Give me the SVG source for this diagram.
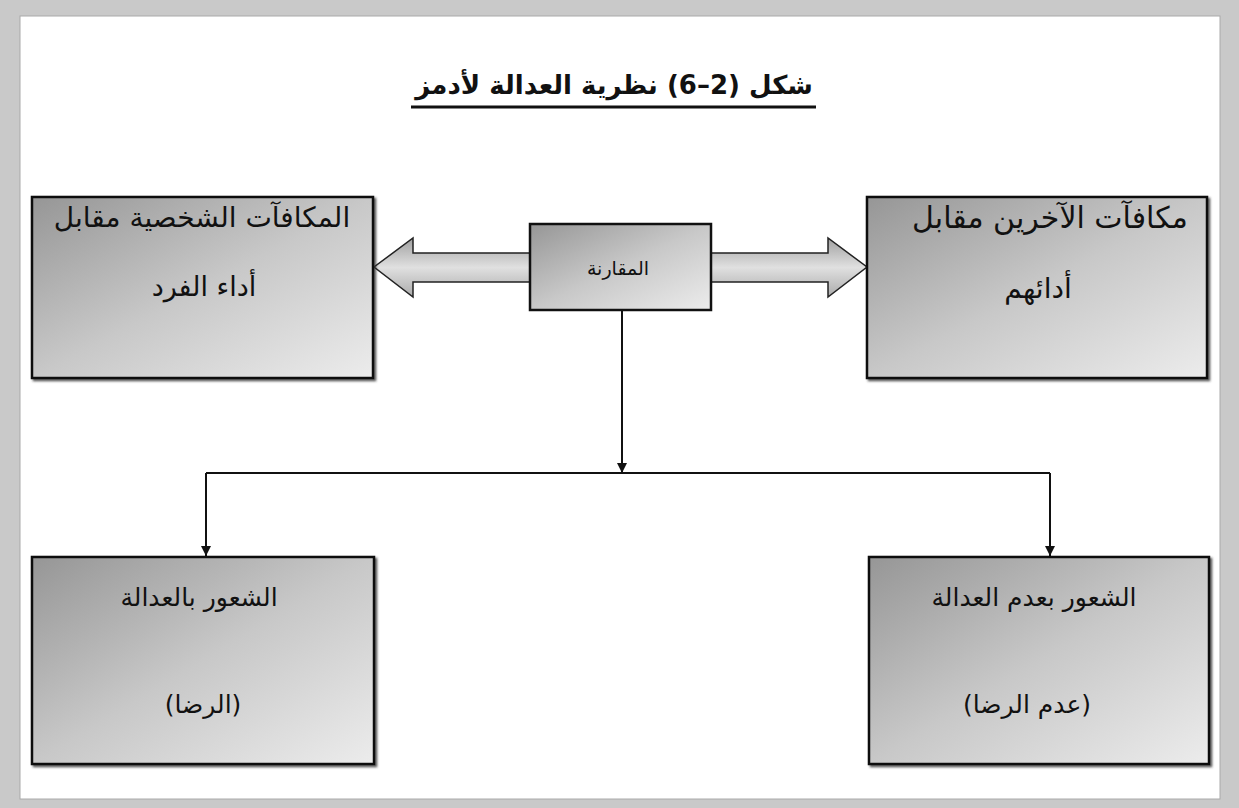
<svg xmlns="http://www.w3.org/2000/svg" width="1239" height="808" viewBox="0 0 1239 808">
<style>
.box{stroke:#111;stroke-width:2.5}
.t{font-family:"DejaVu Sans","Noto Sans",sans-serif;font-size:27px;fill:#111;text-anchor:middle}
.conn{stroke:#111;stroke-width:2;fill:none}
.big{stroke:#222;stroke-width:1.5}
</style>
<defs>
<linearGradient id="g" x1="0" y1="0" x2="1" y2="1">
<stop offset="0" stop-color="#969696"/>
<stop offset="0.5" stop-color="#c8c8c8"/>
<stop offset="1" stop-color="#ececec"/>
</linearGradient>
<linearGradient id="ga" x1="0" y1="0" x2="0" y2="1">
<stop offset="0" stop-color="#a0a0a0"/>
<stop offset="0.5" stop-color="#e0e0e0"/>
<stop offset="1" stop-color="#ababab"/>
</linearGradient>
<marker id="ah" viewBox="0 0 10 10" refX="10" refY="5" markerWidth="10" markerHeight="11" markerUnits="userSpaceOnUse" orient="auto">
<path d="M0,0 L10,5 L0,10 z" fill="#111"/>
</marker>
<filter id="sh" x="-5%" y="-5%" width="110%" height="110%">
<feDropShadow dx="2" dy="2" stdDeviation="1" flood-color="#333" flood-opacity="0.8"/>
</filter>
</defs>
<rect x="0" y="0" width="1239" height="808" fill="#c9c9c9"/>
<rect x="20" y="16" width="1200" height="783" fill="#ffffff" stroke="#aaa" stroke-width="1"/>

<g id="title">
<text x="614" y="94" direction="rtl" style="font-family:'DejaVu Sans',sans-serif;font-size:26px;font-weight:bold;fill:#111;text-anchor:middle">شكل (2–6) نظرية العدالة لأدمز</text>
<line x1="411" y1="107" x2="816" y2="107" stroke="#111" stroke-width="3"/>
</g>

<g id="connectors">
<path class="big" d="M530,253 L413,253 L413,238 L374,267 L413,297 L413,282 L530,282 z" fill="url(#ga)"/>
<path class="big" d="M711,253 L828,253 L828,238 L867,267 L828,297 L828,282 L711,282 z" fill="url(#ga)"/>
<line class="conn" x1="622" y1="310" x2="622" y2="473" marker-end="url(#ah)"/>
<polyline class="conn" points="206,473 1050,473"/>
<line class="conn" x1="206" y1="473" x2="206" y2="556" marker-end="url(#ah)"/>
<line class="conn" x1="1050" y1="473" x2="1050" y2="556" marker-end="url(#ah)"/>
</g>

<g id="node-personal">
<rect class="box" x="32" y="197" width="341" height="181" fill="url(#g)" filter="url(#sh)"/>
<text class="t" x="202" y="227" direction="rtl" style="font-size:28px">المكافآت الشخصية مقابل</text>
<text class="t" x="204" y="296" direction="rtl">أداء الفرد</text>
</g>

<g id="node-others">
<rect class="box" x="867" y="197" width="340" height="181" fill="url(#g)" filter="url(#sh)"/>
<text class="t" x="1050" y="228" direction="rtl" style="font-size:30px">مكافآت الآخرين مقابل</text>
<text class="t" x="1038" y="298" direction="rtl" style="font-size:28px">أدائهم</text>
</g>

<g id="node-compare">
<rect class="box" x="530" y="224" width="181" height="86" fill="url(#g)"/>
<text class="t" x="618" y="275" direction="rtl" style="font-size:19px">المقارنة</text>
</g>

<g id="node-equity">
<rect class="box" x="32" y="557" width="342" height="207" fill="url(#g)" filter="url(#sh)"/>
<text class="t" x="199" y="606" direction="rtl" style="font-size:25px">الشعور بالعدالة</text>
<text class="t" x="203" y="713" direction="rtl" style="font-size:25px">(الرضا)</text>
</g>

<g id="node-inequity">
<rect class="box" x="869" y="557" width="340" height="207" fill="url(#g)" filter="url(#sh)"/>
<text class="t" x="1034" y="606" direction="rtl" style="font-size:25px">الشعور بعدم العدالة</text>
<text class="t" x="1027" y="713" direction="rtl" style="font-size:25px">(عدم الرضا)</text>
</g>
</svg>
